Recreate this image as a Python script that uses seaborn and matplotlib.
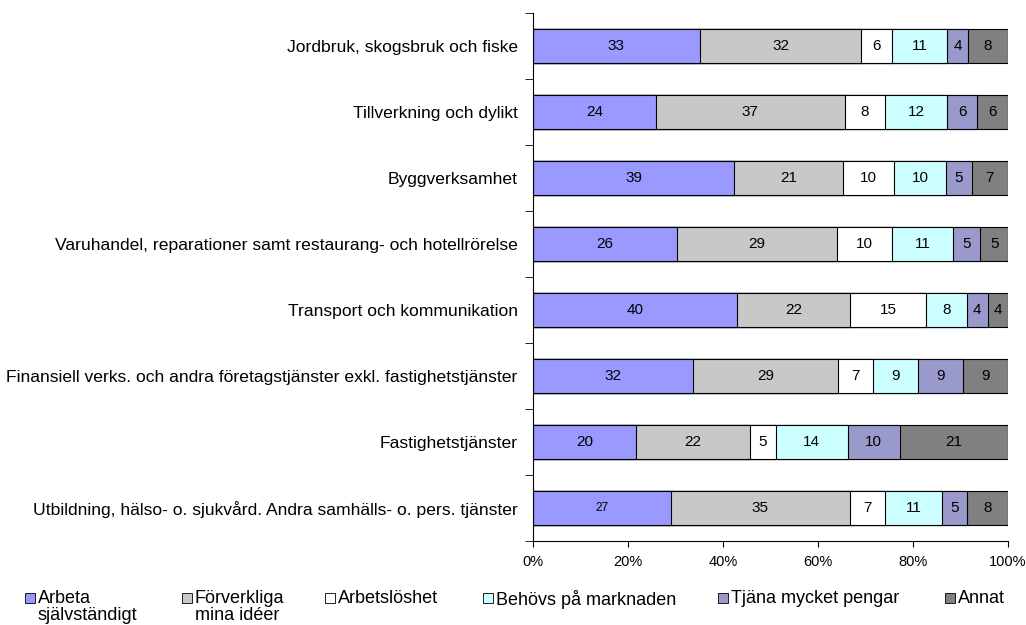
import numpy as np
import pandas as pd
import seaborn as sns
import matplotlib.pyplot as plt
from matplotlib.patches import Rectangle

branscher = [
    "Jordbruk, skogsbruk och fiske",
    "Tillverkning och dylikt",
    "Byggverksamhet",
    "Varuhandel, reparationer samt restaurang- och hotellrörelse",
    "Transport och kommunikation",
    "Finansiell verks. och andra företagstjänster exkl. fastighetstjänster",
    "Fastighetstjänster",
    "Utbildning, hälso- o. sjukvård. Andra samhälls- o. pers. tjänster",
]
serier = ["Arbeta\nsjälvständigt", "Förverkliga\nmina idéer", "Arbetslöshet",
          "Behövs på marknaden", "Tjäna mycket pengar", "Annat"]

arbeta = [33, 24, 39, 26, 40, 32, 20, 27]
forverkliga = [32, 37, 21, 29, 22, 29, 22, 35]
arbetsloshet = [6, 8, 10, 10, 15, 7, 5, 7]
behovs = [11, 12, 10, 11, 8, 9, 14, 11]
pengar = [4, 6, 5, 5, 4, 9, 10, 5]
annat = [8, 6, 7, 5, 4, 9, 21, 8]

farger = ["#9999FF", "#C8C8C8", "#FFFFFF", "#CCFFFF", "#9999CC", "#808080"]

plt.rcParams['font.family'] = ['Liberation Sans', 'DejaVu Sans']

W, H = 1026, 625

df = pd.DataFrame(
    np.array([arbeta, forverkliga, arbetsloshet, behovs, pengar, annat]).T,
    index=branscher, columns=serier)
andel = df.div(df.sum(axis=1), axis=0) * 100
kum = andel.cumsum(axis=1)

fig = plt.figure(figsize=(W / 100, H / 100), dpi=100)
ax = fig.add_axes([533 / W, 1 - 541 / H, 475 / W, 528 / H])

# rita kumulativa staplar bakifrån så att de ser staplade ut
for i in reversed(range(len(serier))):
    d = pd.DataFrame({"bransch": branscher, "v": kum.iloc[:, i].values})
    sns.barplot(data=d, x="v", y="bransch", orient="h", color=farger[i],
                saturation=1, width=0.52, edgecolor="black", linewidth=0.8, ax=ax)

# värden i staplarna
for r, b in enumerate(branscher):
    start = 0
    for i, s in enumerate(serier):
        w = andel.loc[b, s]
        fs = 8.5 if (r == 7 and i == 0) else 11
        ax.text(start + w / 2, r, str(df.loc[b, s]), ha="center", va="center",
                fontsize=fs, color="black")
        start += w

ax.set_xlim(0, 100)
ax.set_ylim(7.5, -0.5)
ax.set_xticks(np.arange(0, 101, 20))
ax.set_xticklabels([f"{v}%" for v in range(0, 101, 20)], fontsize=10.5)
ax.set_yticks(range(len(branscher)))
ax.set_yticklabels(branscher, fontsize=12.6)
ax.tick_params(axis="y", length=0, pad=11)
ax.set_yticks(np.arange(-0.5, 8, 1), minor=True)
ax.tick_params(axis="y", which="minor", length=6, direction="out")
ax.tick_params(axis="x", length=4, direction="out", pad=6)
ax.set_xlabel("")
ax.set_ylabel("")
for sp in ["top", "right"]:
    ax.spines[sp].set_visible(False)

# förklaring längst ned, placerad som i originalet
leg_x = [25, 182, 325, 483, 718, 945]
for i, s in enumerate(serier):
    fig.patches.append(Rectangle((leg_x[i] / W, 1 - 603 / H), 10 / W, 10 / H,
                                 facecolor=farger[i], edgecolor="black", linewidth=0.6,
                                 transform=fig.transFigure, figure=fig))
    fig.text((leg_x[i] + 13) / W, 1 - 590 / H, s, ha="left", va="top",
             fontsize=13, linespacing=1.0)

fig.savefig("out.png", dpi=100)
